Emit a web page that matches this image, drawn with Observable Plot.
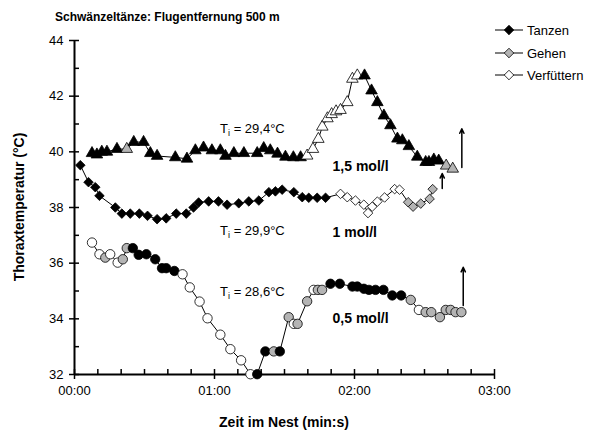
<!DOCTYPE html>
<html><head><meta charset="utf-8">
<script src="https://cdn.jsdelivr.net/npm/d3@7"></script>
<script src="https://cdn.jsdelivr.net/npm/@observablehq/plot@0.6"></script>
<style>
body{margin:0;background:#fff}
#chart{width:593px;height:437px}
</style>
</head><body><div id="chart"></div>
<script>
// ---- data (time in s, thorax temperature in °C, activity code) ----
const tri_t = [7.5, 9.6, 11.7, 13.9, 18.2, 22.4, 25.4, 29.6, 32.5, 35.4, 43.2, 48.2, 51.8, 55.3, 58.9, 62.5, 64.7, 68.3, 72.6, 78.3, 81.1, 83.9, 87.0, 90.4, 93.8, 96.9, 99.7, 102.2, 104.5, 106.2, 108.4, 110.2, 112.1, 114.0, 116.9, 119.1, 121.2, 124.3, 127.3, 129.8, 132.6, 135.4, 138.4, 140.5, 143.3, 146.9, 150.5, 151.9, 154.0, 156.1, 159.3, 162.1];
const tri_T = [39.95, 39.9, 40.0, 40.0, 40.1, 40.1, 40.35, 40.35, 39.95, 39.85, 39.8, 39.75, 40.05, 40.15, 40.05, 40.05, 39.85, 39.95, 39.95, 39.95, 40.13, 40.05, 39.93, 39.82, 39.8, 39.8, 39.86, 40.1, 40.46, 40.9, 41.2, 41.35, 41.45, 41.5, 41.78, 42.62, 42.74, 42.74, 42.2, 41.78, 41.3, 40.95, 40.47, 40.41, 40.2, 39.82, 39.63, 39.63, 39.72, 39.68, 39.5, 39.39];
const tri_act = "TTTTTGTTTTTTTTTTTTTTTTTTTTVVVVVVVVVVVTTTTTTTTTTTTTGG";

const dia_t = [2.5, 6.0, 8.9, 10.7, 17.5, 20.3, 23.9, 27.8, 31.3, 35.4, 39.3, 43.6, 47.9, 51.0, 53.2, 57.5, 61.7, 65.4, 70.4, 74.7, 79.0, 83.3, 86.1, 89.0, 94.0, 97.6, 100.4, 104.0, 107.6, 114.0, 116.9, 120.4, 124.0, 125.8, 127.6, 129.8, 132.9, 137.2, 139.3, 143.0, 145.1, 148.4, 152.2, 153.5];
const dia_T = [39.52, 38.91, 38.73, 38.42, 38.0, 37.78, 37.78, 37.78, 37.70, 37.58, 37.61, 37.78, 37.78, 38.0, 38.18, 38.22, 38.22, 38.10, 38.15, 38.22, 38.25, 38.55, 38.58, 38.64, 38.55, 38.37, 38.35, 38.35, 38.35, 38.49, 38.37, 38.25, 38.10, 37.80, 38.03, 38.21, 38.36, 38.66, 38.64, 38.19, 38.03, 38.14, 38.31, 38.66];
const dia_act = "TTTTTTTTTTTTTTTTTTTTTTTTTTTTTVVVVVVVVVVGGGGG";

const cir_t = [7.5, 10.7, 13.2, 15.3, 18.5, 20.7, 22.4, 25.0, 27.5, 30.8, 34.6, 37.5, 39.3, 42.8, 46.3, 49.4, 53.6, 57.0, 62.5, 66.8, 71.4, 75.4, 78.3, 81.8, 85.4, 88.0, 91.8, 94.0, 95.6, 99.7, 102.5, 104.3, 106.1, 109.7, 113.7, 119.1, 121.2, 124.0, 126.2, 129.0, 132.4, 136.2, 140.0, 144.1, 147.6, 150.5, 152.9, 156.6, 159.1, 161.2, 163.3, 165.8];
const cir_T = [36.74, 36.32, 36.20, 36.32, 36.02, 36.14, 36.54, 36.54, 36.30, 36.32, 36.14, 35.82, 35.82, 35.72, 35.60, 35.13, 34.62, 34.02, 33.43, 32.91, 32.51, 32.01, 32.01, 32.83, 32.83, 32.83, 34.06, 33.82, 33.82, 34.63, 35.04, 35.04, 35.04, 35.26, 35.26, 35.16, 35.16, 35.08, 35.04, 35.04, 35.04, 34.84, 34.84, 34.68, 34.32, 34.24, 34.24, 34.06, 34.32, 34.32, 34.24, 34.24];
const cir_act = "VVGVVGGTTTTTTTVVVVVVVVTTGTGVGGVGGTTTTTTTTTTGVGGGGGGG";

const activities = [
  {code: "T", label: "Tanzen", fill: "#000000"},
  {code: "G", label: "Gehen", fill: "#b4b4b4"},
  {code: "V", label: "Verfüttern", fill: "#ffffff"}
];
const xTicksMajor = [0, 60, 120, 180];
const xTicksMinor = d3.range(0, 181, 10);
const yTicksMajor = [32, 34, 36, 38, 40, 42, 44];
const yTicksMinor = d3.range(32, 45, 1);

const tiLabels = [
  {t: 62.6, T: 40.83, text: " = 29,4°C"},
  {t: 62.6, T: 37.17, text: " = 29,9°C"},
  {t: 62.6, T: 34.96, text: " = 28,6°C"}
];
const concLabels = [
  {t: 110.6, T: 39.47, text: "1,5 mol/l"},
  {t: 110.6, T: 37.11, text: "1 mol/l"},
  {t: 110.6, T: 34.01, text: "0,5 mol/l"}
];
const arrows = [
  {t: 166.0, y1: 39.44, y2: 40.83},
  {t: 157.6, y1: 38.68, y2: 39.22},
  {t: 166.6, y1: 34.48, y2: 35.85}
];

// ---- build tables ----
const fillOf = Object.fromEntries(activities.map(a => [a.code, a.fill]));
function rowsOf(name, ts, Ts, acts) {
  return ts.map((t, i) => ({series: name, t, T: Ts[i], fill: fillOf[acts[i]]}));
}
const triRows = rowsOf("1,5 mol/l", tri_t, tri_T, tri_act);
const diaRows = rowsOf("1 mol/l", dia_t, dia_T, dia_act);
const cirRows = rowsOf("0,5 mol/l", cir_t, cir_T, cir_act);

const pad = n => String(n).padStart(2, "0");
const fmt = s => pad(Math.floor(s / 60)) + ":" + pad(s % 60);
const FONT = "'Liberation Sans', Arial, Helvetica, sans-serif";

const plot = Plot.plot({
  width: 593, height: 437,
  marginLeft: 74, marginRight: 99, marginTop: 40, marginBottom: 63,
  style: {fontFamily: FONT, fontSize: "13px", background: "#fff", color: "#000"},
  x: {domain: [0, 180]},
  y: {domain: [32, 44]},
  color: {type: "identity"},
  marks: [
    Plot.axisX({ticks: xTicksMinor, tickSize: -5, tickFormat: () => "", strokeWidth: 1.5, label: null}),
    Plot.axisX({ticks: xTicksMajor, tickSize: 5, tickPadding: 6, tickFormat: fmt, strokeWidth: 1.5, label: null, fontSize: 13}),
    Plot.axisY({ticks: yTicksMinor, tickSize: -5, tickFormat: () => "", strokeWidth: 1.5, label: null}),
    Plot.axisY({ticks: yTicksMajor, tickSize: 5, tickPadding: 6, strokeWidth: 1.5, label: null, fontSize: 13}),
    Plot.ruleY([32], {strokeWidth: 2}),
    Plot.ruleX([0], {strokeWidth: 2}),
    Plot.line(triRows, {x: "t", y: "T", stroke: "#000", strokeWidth: 1}),
    Plot.line(diaRows, {x: "t", y: "T", stroke: "#000", strokeWidth: 1}),
    Plot.line(cirRows, {x: "t", y: "T", stroke: "#000", strokeWidth: 1}),
    Plot.dot(triRows, {x: "t", y: "T", symbol: "triangle", r: 4.3, fill: "fill", stroke: "#000", strokeWidth: 0.8}),
    Plot.dot(diaRows, {x: "t", y: "T", symbol: "diamond2", r: 4.3, fill: "fill", stroke: "#000", strokeWidth: 0.8}),
    Plot.dot(cirRows, {x: "t", y: "T", symbol: "circle", r: 4.7, fill: "fill", stroke: "#000", strokeWidth: 0.8}),
    Plot.arrow(arrows, {x1: "t", x2: "t", y1: "y1", y2: "y2", stroke: "#000", strokeWidth: 1.5, headLength: 5, headAngle: 50}),
    Plot.text(concLabels, {x: "t", y: "T", text: "text", textAnchor: "start", fontWeight: "bold", fontSize: 14})
  ]
});
document.getElementById("chart").appendChild(plot);

// ---- annotations with subscripts, titles, legend ----
const svg = d3.select(plot);
const xs = plot.scale("x"), ys = plot.scale("y");
const g = svg.append("g").attr("font-family", FONT).attr("fill", "#000").attr("text-anchor", "start");

tiLabels.forEach(d => {
  const tx = g.append("text").attr("x", xs.apply(d.t)).attr("y", ys.apply(d.T)).attr("dy", "0.35em").attr("font-size", 13);
  tx.append("tspan").text("T");
  tx.append("tspan").attr("font-size", 9).attr("dy", 3).text("i");
  tx.append("tspan").attr("dy", -3).text(d.text);
});

g.append("text").attr("x", 55).attr("y", 21).attr("font-size", 12).attr("font-weight", "bold")
  .text("Schwänzeltänze: Flugentfernung 500 m");
g.append("text").attr("x", (74 + 494) / 2).attr("y", 427).attr("text-anchor", "middle")
  .attr("font-size", 14).attr("font-weight", "bold").text("Zeit im Nest (min:s)");
g.append("text").attr("transform", "translate(24,207) rotate(-90)").attr("text-anchor", "middle")
  .attr("font-size", 14).attr("font-weight", "bold").text("Thoraxtemperatur (°C)");

const lgY = [30, 53, 75];
activities.forEach((a, i) => {
  const y = lgY[i];
  g.append("line").attr("x1", 495).attr("x2", 523).attr("y1", y).attr("y2", y).attr("stroke", "#000").attr("stroke-width", 1);
  g.append("path").attr("d", d3.symbol(d3.symbolDiamond2, Math.PI * 4.3 * 4.3)())
    .attr("transform", `translate(509,${y})`).attr("fill", a.fill).attr("stroke", "#000").attr("stroke-width", 0.8);
  g.append("text").attr("x", 527).attr("y", y).attr("dy", "0.35em").attr("font-size", 13).text(a.label);
});
</script>
</body></html>
